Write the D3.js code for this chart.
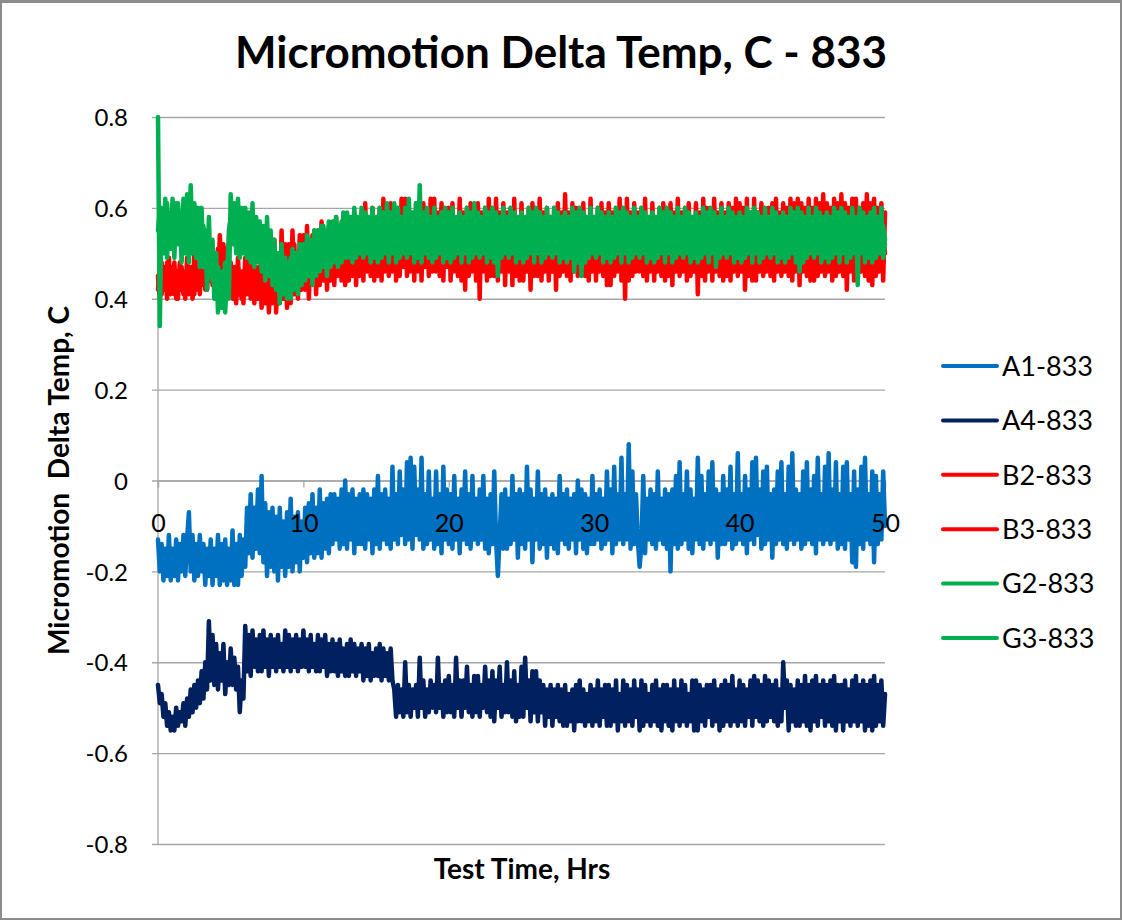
<!DOCTYPE html>
<html>
<head>
<meta charset="utf-8">
<script src="https://cdn.jsdelivr.net/npm/d3@7"></script>
<style>
  html, body { margin: 0; padding: 0; background: #fff; }
  svg { display: block; }
  text { font-family: Lato, "Open Sans", "DejaVu Sans", sans-serif; fill: #000; }
</style>
</head>
<body>
<svg id="chart" width="1122" height="920"></svg>
<script>
// ---------------- DATA ----------------
const title = "Micromotion Delta Temp, C - 833";
const xTitle = "Test Time, Hrs";
const yTitle = "Micromotion  Delta Temp, C";
const xTicks = [0, 10, 20, 30, 40, 50];
const yTicks = [0.8, 0.6, 0.4, 0.2, 0, -0.2, -0.4, -0.6, -0.8];
const seriesNames = ["A1-833", "A4-833", "B2-833", "B3-833", "G2-833", "G3-833"];
const sampleStepHrs = 0.125; // readings every 7.5 minutes, 0..50 h (one row = 1 hour)

const A1 = [
 -0.13,-0.20,-0.14,-0.22,-0.15,-0.21,-0.12,-0.22,
 -0.15,-0.21,-0.13,-0.22,-0.14,-0.20,-0.12,-0.21,
 -0.13,-0.07,-0.20,-0.12,-0.22,-0.14,-0.21,-0.12,
 -0.20,-0.14,-0.23,-0.15,-0.21,-0.13,-0.23,-0.15,
 -0.21,-0.12,-0.23,-0.14,-0.22,-0.13,-0.23,-0.15,
 -0.22,-0.11,-0.23,-0.14,-0.23,-0.12,-0.21,-0.13,
 -0.19,-0.06,-0.16,-0.03,-0.17,-0.06,-0.15,-0.02,
 -0.16,0.01,-0.18,-0.05,-0.21,-0.07,-0.19,-0.06,
 -0.20,-0.08,-0.22,-0.06,-0.19,-0.09,-0.21,-0.07,
 -0.19,-0.04,-0.20,-0.08,-0.18,-0.07,-0.20,-0.09,
 -0.17,-0.06,-0.18,-0.05,-0.16,-0.03,-0.17,-0.06,
 -0.16,-0.02,-0.17,-0.05,-0.15,-0.04,-0.16,-0.03,
 -0.14,-0.03,-0.13,-0.04,-0.15,-0.02,-0.14,0.00,
 -0.15,-0.03,-0.13,-0.02,-0.16,-0.04,-0.14,-0.03,
 -0.14,-0.02,-0.15,-0.03,-0.13,-0.04,-0.16,-0.02,
 -0.14,0.01,-0.15,-0.03,-0.13,-0.02,-0.14,-0.04,
 -0.15,0.03,-0.13,-0.03,-0.14,0.02,-0.12,-0.02,
 -0.14,0.04,-0.13,0.05,-0.15,0.03,-0.12,-0.02,
 -0.13,0.05,-0.15,-0.03,-0.14,0.02,-0.13,-0.04,
 -0.15,0.02,-0.14,-0.03,-0.16,0.03,-0.13,-0.02,
 -0.14,-0.03,-0.15,0.01,-0.13,-0.04,-0.16,-0.02,
 -0.13,0.02,-0.14,-0.03,-0.15,0.01,-0.13,-0.04,
 -0.14,-0.02,-0.13,0.01,-0.15,-0.04,-0.16,-0.03,
 -0.14,0.02,-0.13,-0.21,-0.12,-0.03,-0.15,-0.02,
 -0.15,-0.04,-0.14,0.01,-0.13,-0.03,-0.17,-0.02,
 -0.14,-0.03,-0.15,0.03,-0.13,-0.02,-0.18,-0.04,
 -0.13,0.02,-0.15,-0.03,-0.14,-0.02,-0.17,-0.04,
 -0.14,-0.03,-0.15,-0.04,-0.16,0.01,-0.13,-0.03,
 -0.14,-0.02,-0.15,-0.04,-0.13,-0.03,-0.16,0.00,
 -0.13,-0.02,-0.15,-0.03,-0.16,-0.04,-0.14,0.01,
 -0.14,-0.03,-0.13,-0.02,-0.15,-0.04,-0.14,0.02,
 -0.13,-0.02,-0.16,0.03,-0.14,-0.03,-0.13,0.05,
 -0.14,-0.03,-0.13,0.08,-0.15,0.02,-0.14,-0.03,
 -0.13,-0.19,-0.14,0.01,-0.16,-0.04,-0.13,-0.02,
 -0.14,-0.03,-0.15,0.02,-0.13,-0.04,-0.14,-0.02,
 -0.15,-0.03,-0.20,-0.02,-0.14,0.01,-0.15,0.04,
 -0.14,-0.03,-0.13,0.02,-0.15,-0.02,-0.16,-0.04,
 -0.13,0.05,-0.14,0.01,-0.15,-0.03,-0.13,0.02,
 -0.14,0.04,-0.13,-0.02,-0.17,-0.03,-0.14,0.01,
 -0.14,-0.02,-0.13,0.03,-0.15,-0.03,-0.14,0.06,
 -0.13,-0.03,-0.14,0.01,-0.16,-0.02,-0.13,0.04,
 -0.14,0.05,-0.12,-0.02,-0.15,0.02,-0.14,0.03,
 -0.13,-0.03,-0.17,-0.02,-0.14,0.02,-0.13,0.04,
 -0.14,-0.03,-0.15,0.03,-0.13,0.06,-0.14,-0.02,
 -0.13,-0.03,-0.15,0.02,-0.14,0.04,-0.13,-0.02,
 -0.14,0.01,-0.16,0.05,-0.13,-0.03,-0.14,0.03,
 -0.13,0.06,-0.14,-0.02,-0.13,0.04,-0.15,-0.03,
 -0.14,0.03,-0.15,0.04,-0.13,-0.03,-0.18,0.02,
 -0.19,-0.02,-0.14,0.03,-0.15,0.05,-0.13,-0.03,
 -0.14,0.02,-0.18,0.01,-0.14,-0.03,-0.13,0.02,
 -0.10
];

const A4 = [
 -0.45,-0.49,-0.47,-0.52,-0.49,-0.54,-0.51,-0.55,
 -0.52,-0.55,-0.50,-0.54,-0.51,-0.53,-0.49,-0.54,
 -0.48,-0.52,-0.46,-0.51,-0.45,-0.50,-0.44,-0.49,
 -0.42,-0.48,-0.40,-0.46,-0.31,-0.44,-0.34,-0.45,
 -0.36,-0.46,-0.38,-0.44,-0.36,-0.47,-0.40,-0.45,
 -0.37,-0.45,-0.39,-0.46,-0.41,-0.51,-0.44,-0.48,
 -0.32,-0.42,-0.34,-0.43,-0.33,-0.41,-0.35,-0.42,
 -0.34,-0.42,-0.33,-0.41,-0.35,-0.43,-0.34,-0.41,
 -0.35,-0.42,-0.34,-0.41,-0.36,-0.42,-0.33,-0.41,
 -0.34,-0.42,-0.35,-0.41,-0.34,-0.42,-0.35,-0.41,
 -0.33,-0.41,-0.35,-0.42,-0.34,-0.41,-0.36,-0.42,
 -0.34,-0.42,-0.35,-0.41,-0.34,-0.43,-0.36,-0.42,
 -0.35,-0.42,-0.36,-0.43,-0.35,-0.42,-0.37,-0.43,
 -0.36,-0.43,-0.35,-0.42,-0.36,-0.43,-0.37,-0.42,
 -0.36,-0.44,-0.37,-0.43,-0.36,-0.44,-0.38,-0.43,
 -0.37,-0.43,-0.36,-0.44,-0.37,-0.43,-0.38,-0.44,
 -0.37,-0.44,-0.46,-0.52,-0.45,-0.51,-0.46,-0.52,
 -0.40,-0.51,-0.45,-0.52,-0.46,-0.50,-0.45,-0.52,
 -0.39,-0.50,-0.44,-0.52,-0.46,-0.51,-0.44,-0.50,
 -0.45,-0.51,-0.39,-0.50,-0.45,-0.52,-0.44,-0.51,
 -0.43,-0.51,-0.45,-0.52,-0.39,-0.50,-0.44,-0.52,
 -0.44,-0.50,-0.41,-0.51,-0.45,-0.52,-0.43,-0.51,
 -0.43,-0.52,-0.45,-0.50,-0.41,-0.51,-0.44,-0.52,
 -0.42,-0.53,-0.44,-0.50,-0.41,-0.52,-0.45,-0.51,
 -0.40,-0.51,-0.44,-0.52,-0.42,-0.53,-0.45,-0.52,
 -0.41,-0.52,-0.39,-0.50,-0.44,-0.53,-0.42,-0.51,
 -0.42,-0.53,-0.44,-0.51,-0.45,-0.54,-0.46,-0.52,
 -0.45,-0.54,-0.46,-0.52,-0.45,-0.53,-0.46,-0.54,
 -0.45,-0.54,-0.47,-0.53,-0.46,-0.55,-0.45,-0.53,
 -0.44,-0.53,-0.46,-0.54,-0.47,-0.53,-0.45,-0.54,
 -0.46,-0.53,-0.44,-0.54,-0.46,-0.52,-0.45,-0.54,
 -0.45,-0.54,-0.46,-0.53,-0.44,-0.55,-0.47,-0.53,
 -0.44,-0.54,-0.45,-0.53,-0.46,-0.54,-0.44,-0.52,
 -0.46,-0.55,-0.44,-0.54,-0.45,-0.53,-0.47,-0.54,
 -0.45,-0.53,-0.44,-0.54,-0.46,-0.55,-0.45,-0.53,
 -0.45,-0.54,-0.46,-0.55,-0.44,-0.53,-0.46,-0.54,
 -0.44,-0.53,-0.45,-0.54,-0.47,-0.53,-0.44,-0.55,
 -0.44,-0.55,-0.45,-0.53,-0.46,-0.54,-0.45,-0.52,
 -0.45,-0.54,-0.44,-0.53,-0.46,-0.55,-0.45,-0.54,
 -0.44,-0.53,-0.45,-0.54,-0.43,-0.53,-0.46,-0.54,
 -0.44,-0.53,-0.45,-0.54,-0.46,-0.52,-0.44,-0.54,
 -0.43,-0.52,-0.44,-0.53,-0.45,-0.54,-0.43,-0.53,
 -0.44,-0.52,-0.45,-0.53,-0.44,-0.54,-0.46,-0.53,
 -0.40,-0.50,-0.44,-0.55,-0.45,-0.53,-0.46,-0.54,
 -0.44,-0.54,-0.45,-0.53,-0.43,-0.54,-0.45,-0.55,
 -0.44,-0.53,-0.43,-0.54,-0.45,-0.52,-0.44,-0.54,
 -0.45,-0.53,-0.44,-0.54,-0.43,-0.55,-0.45,-0.53,
 -0.45,-0.55,-0.44,-0.53,-0.46,-0.54,-0.44,-0.53,
 -0.43,-0.54,-0.45,-0.53,-0.44,-0.55,-0.45,-0.54,
 -0.44,-0.55,-0.43,-0.54,-0.45,-0.53,-0.44,-0.54,
 -0.47
];

const B2 = [
 0.45,0.40,0.48,0.42,0.47,0.40,0.49,0.41,
 0.47,0.41,0.46,0.40,0.48,0.42,0.45,0.40,
 0.49,0.41,0.47,0.40,0.50,0.42,0.48,0.41,
 0.52,0.43,0.50,0.42,0.53,0.44,0.49,0.42,
 0.50,0.41,0.54,0.44,0.52,0.42,0.51,0.43,
 0.48,0.40,0.47,0.39,0.49,0.41,0.46,0.39,
 0.49,0.41,0.50,0.40,0.48,0.39,0.47,0.40,
 0.47,0.38,0.46,0.39,0.48,0.37,0.45,0.39,
 0.53,0.37,0.50,0.39,0.55,0.40,0.52,0.38,
 0.52,0.39,0.55,0.41,0.50,0.40,0.54,0.42,
 0.54,0.42,0.56,0.40,0.53,0.43,0.55,0.41,
 0.55,0.43,0.57,0.44,0.54,0.42,0.56,0.44,
 0.56,0.43,0.58,0.45,0.55,0.44,0.57,0.43,
 0.57,0.44,0.56,0.45,0.59,0.43,0.58,0.45,
 0.59,0.44,0.61,0.46,0.58,0.45,0.60,0.44,
 0.58,0.45,0.60,0.44,0.62,0.46,0.59,0.45,
 0.61,0.46,0.59,0.44,0.60,0.45,0.62,0.47,
 0.62,0.45,0.60,0.46,0.58,0.44,0.61,0.46,
 0.60,0.44,0.61,0.47,0.59,0.45,0.62,0.46,
 0.62,0.46,0.59,0.45,0.61,0.44,0.60,0.47,
 0.60,0.44,0.61,0.46,0.58,0.45,0.62,0.44,
 0.59,0.42,0.60,0.45,0.61,0.46,0.58,0.44,
 0.61,0.40,0.59,0.46,0.60,0.44,0.62,0.45,
 0.60,0.45,0.62,0.44,0.59,0.46,0.61,0.43,
 0.59,0.46,0.60,0.43,0.62,0.45,0.58,0.44,
 0.61,0.44,0.58,0.46,0.60,0.42,0.61,0.45,
 0.60,0.45,0.62,0.44,0.59,0.46,0.60,0.44,
 0.58,0.46,0.60,0.42,0.61,0.45,0.59,0.46,
 0.63,0.45,0.59,0.44,0.61,0.46,0.60,0.45,
 0.60,0.46,0.61,0.45,0.58,0.44,0.62,0.46,
 0.58,0.44,0.60,0.46,0.61,0.45,0.59,0.43,
 0.61,0.43,0.59,0.45,0.60,0.46,0.62,0.44,
 0.60,0.40,0.62,0.44,0.59,0.45,0.61,0.46,
 0.59,0.46,0.60,0.45,0.62,0.44,0.58,0.46,
 0.61,0.44,0.58,0.46,0.60,0.45,0.61,0.44,
 0.60,0.45,0.61,0.43,0.59,0.46,0.62,0.45,
 0.59,0.46,0.60,0.44,0.61,0.45,0.58,0.46,
 0.61,0.41,0.59,0.45,0.62,0.44,0.60,0.46,
 0.60,0.44,0.62,0.46,0.59,0.45,0.61,0.44,
 0.59,0.45,0.61,0.44,0.60,0.46,0.62,0.45,
 0.61,0.46,0.60,0.42,0.62,0.45,0.59,0.44,
 0.62,0.44,0.59,0.46,0.61,0.45,0.60,0.46,
 0.60,0.45,0.61,0.44,0.62,0.46,0.59,0.45,
 0.61,0.46,0.60,0.45,0.62,0.44,0.61,0.46,
 0.62,0.43,0.61,0.46,0.60,0.45,0.62,0.44,
 0.60,0.44,0.62,0.45,0.61,0.46,0.63,0.45,
 0.61,0.46,0.60,0.44,0.62,0.45,0.61,0.46,
 0.63,0.45,0.61,0.42,0.60,0.46,0.62,0.44,
 0.62,0.44,0.60,0.46,0.61,0.45,0.63,0.44,
 0.61,0.43,0.62,0.45,0.60,0.46,0.61,0.44,
 0.59
];

const B3 = [
 0.42,0.47,0.41,0.46,0.43,0.48,0.42,0.45,
 0.43,0.48,0.40,0.45,0.42,0.47,0.41,0.46,
 0.42,0.47,0.43,0.46,0.41,0.48,0.43,0.47,
 0.44,0.50,0.42,0.49,0.45,0.51,0.43,0.48,
 0.45,0.51,0.43,0.48,0.44,0.50,0.42,0.47,
 0.42,0.46,0.40,0.47,0.41,0.45,0.40,0.46,
 0.43,0.48,0.41,0.46,0.42,0.47,0.40,0.45,
 0.40,0.45,0.39,0.47,0.41,0.44,0.39,0.46,
 0.41,0.48,0.39,0.50,0.42,0.47,0.40,0.49,
 0.42,0.51,0.43,0.52,0.41,0.50,0.44,0.51,
 0.44,0.53,0.45,0.52,0.43,0.54,0.46,0.52,
 0.46,0.54,0.45,0.55,0.47,0.53,0.46,0.55,
 0.47,0.55,0.46,0.54,0.48,0.56,0.47,0.55,
 0.48,0.56,0.47,0.55,0.49,0.57,0.48,0.56,
 0.47,0.56,0.48,0.57,0.49,0.56,0.47,0.58,
 0.48,0.57,0.47,0.58,0.48,0.56,0.49,0.57,
 0.49,0.58,0.48,0.56,0.47,0.57,0.48,0.56,
 0.47,0.56,0.48,0.57,0.49,0.56,0.47,0.58,
 0.48,0.57,0.47,0.58,0.48,0.56,0.49,0.57,
 0.49,0.58,0.48,0.56,0.47,0.57,0.48,0.56,
 0.47,0.56,0.48,0.57,0.49,0.56,0.47,0.58,
 0.48,0.57,0.47,0.58,0.48,0.56,0.49,0.57,
 0.49,0.58,0.48,0.56,0.47,0.57,0.48,0.56,
 0.47,0.56,0.48,0.57,0.49,0.56,0.47,0.58,
 0.48,0.57,0.47,0.58,0.48,0.56,0.49,0.57,
 0.49,0.58,0.48,0.56,0.47,0.57,0.48,0.56,
 0.47,0.56,0.48,0.57,0.49,0.56,0.47,0.58,
 0.48,0.57,0.47,0.58,0.48,0.56,0.49,0.57,
 0.49,0.58,0.48,0.56,0.47,0.57,0.48,0.56,
 0.47,0.56,0.48,0.57,0.49,0.56,0.47,0.58,
 0.48,0.57,0.47,0.58,0.48,0.56,0.49,0.57,
 0.49,0.58,0.48,0.56,0.47,0.57,0.48,0.56,
 0.47,0.56,0.48,0.57,0.49,0.56,0.47,0.58,
 0.48,0.57,0.47,0.58,0.48,0.56,0.49,0.57,
 0.49,0.58,0.48,0.56,0.47,0.57,0.48,0.56,
 0.47,0.56,0.48,0.57,0.49,0.56,0.47,0.58,
 0.48,0.57,0.47,0.58,0.48,0.56,0.49,0.57,
 0.49,0.58,0.48,0.56,0.47,0.57,0.48,0.56,
 0.47,0.56,0.48,0.57,0.49,0.56,0.47,0.58,
 0.48,0.57,0.47,0.58,0.48,0.56,0.49,0.57,
 0.49,0.58,0.48,0.56,0.47,0.57,0.48,0.56,
 0.47,0.56,0.48,0.57,0.49,0.56,0.47,0.58,
 0.48,0.57,0.47,0.58,0.48,0.56,0.49,0.57,
 0.49,0.58,0.48,0.56,0.47,0.57,0.48,0.56,
 0.47,0.56,0.48,0.57,0.49,0.56,0.47,0.58,
 0.48,0.57,0.47,0.58,0.48,0.56,0.49,0.57,
 0.49,0.58,0.48,0.56,0.47,0.57,0.48,0.56,
 0.47,0.56,0.48,0.57,0.49,0.56,0.47,0.58,
 0.48,0.57,0.47,0.58,0.48,0.56,0.49,0.57,
 0.49,0.58,0.48,0.56,0.47,0.57,0.48,0.56,
 0.50
];

const G2 = [
 0.80,0.34,0.60,0.50,0.62,0.49,0.58,0.51,
 0.62,0.49,0.61,0.52,0.59,0.48,0.62,0.50,
 0.63,0.48,0.65,0.50,0.61,0.49,0.60,0.47,
 0.60,0.47,0.55,0.42,0.58,0.45,0.53,0.40,
 0.50,0.37,0.46,0.38,0.44,0.37,0.48,0.40,
 0.63,0.52,0.61,0.50,0.62,0.49,0.60,0.50,
 0.60,0.49,0.59,0.48,0.61,0.47,0.58,0.48,
 0.57,0.46,0.56,0.44,0.58,0.45,0.55,0.43,
 0.53,0.42,0.50,0.39,0.52,0.41,0.49,0.40,
 0.48,0.40,0.51,0.42,0.50,0.41,0.52,0.43,
 0.52,0.44,0.54,0.45,0.53,0.43,0.55,0.45,
 0.55,0.46,0.56,0.47,0.54,0.45,0.57,0.47,
 0.57,0.48,0.58,0.47,0.56,0.48,0.59,0.49,
 0.59,0.49,0.58,0.48,0.60,0.49,0.58,0.50,
 0.60,0.49,0.59,0.50,0.58,0.48,0.60,0.49,
 0.58,0.48,0.60,0.49,0.59,0.50,0.61,0.48,
 0.59,0.50,0.61,0.48,0.60,0.49,0.58,0.50,
 0.60,0.49,0.62,0.50,0.59,0.48,0.61,0.49,
 0.65,0.48,0.59,0.50,0.60,0.49,0.58,0.48,
 0.60,0.49,0.58,0.50,0.59,0.48,0.60,0.49,
 0.59,0.48,0.60,0.49,0.58,0.50,0.59,0.48,
 0.58,0.50,0.60,0.48,0.59,0.49,0.61,0.50,
 0.59,0.49,0.58,0.50,0.60,0.48,0.59,0.49,
 0.60,0.48,0.59,0.45,0.58,0.49,0.60,0.50,
 0.58,0.49,0.60,0.50,0.59,0.48,0.58,0.49,
 0.59,0.48,0.58,0.49,0.60,0.50,0.59,0.48,
 0.60,0.50,0.59,0.48,0.58,0.49,0.60,0.50,
 0.58,0.49,0.60,0.50,0.59,0.48,0.58,0.49,
 0.59,0.48,0.58,0.49,0.60,0.46,0.59,0.48,
 0.60,0.45,0.59,0.48,0.58,0.49,0.60,0.50,
 0.58,0.49,0.60,0.50,0.59,0.48,0.58,0.49,
 0.59,0.48,0.58,0.49,0.60,0.50,0.59,0.48,
 0.60,0.50,0.59,0.48,0.58,0.49,0.60,0.50,
 0.58,0.49,0.60,0.50,0.59,0.48,0.58,0.49,
 0.59,0.48,0.58,0.49,0.60,0.50,0.59,0.48,
 0.60,0.50,0.59,0.48,0.58,0.49,0.60,0.50,
 0.58,0.49,0.60,0.50,0.59,0.48,0.58,0.49,
 0.59,0.48,0.58,0.49,0.60,0.50,0.59,0.48,
 0.60,0.50,0.59,0.47,0.58,0.49,0.60,0.50,
 0.58,0.49,0.60,0.50,0.59,0.48,0.58,0.49,
 0.59,0.48,0.58,0.49,0.60,0.50,0.59,0.48,
 0.60,0.50,0.59,0.48,0.58,0.49,0.60,0.50,
 0.58,0.49,0.60,0.50,0.59,0.48,0.58,0.49,
 0.59,0.48,0.58,0.49,0.60,0.50,0.59,0.48,
 0.60,0.46,0.59,0.48,0.58,0.49,0.60,0.50,
 0.58,0.49,0.60,0.50,0.59,0.48,0.58,0.49,
 0.59,0.48,0.58,0.49,0.60,0.50,0.59,0.48,
 0.60,0.50,0.59,0.48,0.58,0.49,0.60,0.50,
 0.58,0.43,0.60,0.50,0.59,0.48,0.58,0.49,
 0.59,0.48,0.60,0.49,0.58,0.50,0.60,0.49,
 0.52
];

const G3 = [
 0.55,0.60,0.52,0.58,0.54,0.61,0.53,0.59,
 0.54,0.60,0.53,0.61,0.55,0.59,0.52,0.60,
 0.55,0.62,0.52,0.59,0.54,0.60,0.53,0.58,
 0.50,0.56,0.47,0.54,0.45,0.52,0.44,0.50,
 0.40,0.47,0.41,0.46,0.42,0.48,0.44,0.55,
 0.58,0.54,0.57,0.52,0.58,0.53,0.56,0.52,
 0.56,0.51,0.55,0.50,0.56,0.51,0.54,0.50,
 0.53,0.48,0.52,0.47,0.53,0.48,0.51,0.46,
 0.49,0.44,0.47,0.43,0.48,0.44,0.46,0.43,
 0.45,0.49,0.47,0.50,0.46,0.49,0.48,0.51,
 0.48,0.52,0.50,0.53,0.49,0.52,0.51,0.54,
 0.51,0.55,0.52,0.56,0.51,0.55,0.53,0.56,
 0.52,0.57,0.53,0.56,0.54,0.57,0.52,0.56,
 0.53,0.56,0.52,0.57,0.53,0.58,0.54,0.56,
 0.54,0.57,0.52,0.56,0.53,0.57,0.52,0.58,
 0.52,0.57,0.53,0.56,0.54,0.57,0.52,0.56,
 0.53,0.56,0.52,0.57,0.53,0.58,0.54,0.56,
 0.54,0.57,0.52,0.56,0.53,0.57,0.52,0.58,
 0.52,0.57,0.53,0.56,0.54,0.57,0.52,0.56,
 0.53,0.56,0.52,0.57,0.53,0.58,0.54,0.56,
 0.54,0.57,0.52,0.56,0.53,0.57,0.52,0.58,
 0.52,0.57,0.53,0.56,0.54,0.57,0.52,0.56,
 0.53,0.56,0.52,0.57,0.53,0.58,0.54,0.56,
 0.54,0.57,0.52,0.56,0.53,0.57,0.52,0.58,
 0.52,0.57,0.53,0.56,0.54,0.57,0.52,0.56,
 0.53,0.56,0.52,0.57,0.53,0.58,0.54,0.56,
 0.54,0.57,0.52,0.56,0.53,0.57,0.52,0.58,
 0.52,0.57,0.53,0.56,0.54,0.57,0.52,0.56,
 0.53,0.56,0.52,0.57,0.53,0.58,0.54,0.56,
 0.54,0.57,0.52,0.56,0.53,0.57,0.52,0.58,
 0.52,0.57,0.53,0.56,0.54,0.57,0.52,0.56,
 0.53,0.56,0.52,0.57,0.53,0.58,0.54,0.56,
 0.54,0.57,0.52,0.56,0.53,0.57,0.52,0.58,
 0.52,0.57,0.53,0.56,0.54,0.57,0.52,0.56,
 0.53,0.56,0.52,0.57,0.53,0.58,0.54,0.56,
 0.54,0.57,0.52,0.56,0.53,0.57,0.52,0.58,
 0.52,0.57,0.53,0.56,0.54,0.57,0.52,0.56,
 0.53,0.56,0.52,0.57,0.53,0.58,0.54,0.56,
 0.54,0.57,0.52,0.56,0.53,0.57,0.52,0.58,
 0.52,0.57,0.53,0.56,0.54,0.57,0.52,0.56,
 0.53,0.56,0.52,0.57,0.53,0.58,0.54,0.56,
 0.54,0.57,0.52,0.56,0.53,0.57,0.52,0.58,
 0.52,0.57,0.53,0.56,0.54,0.57,0.52,0.56,
 0.53,0.56,0.52,0.57,0.53,0.58,0.54,0.56,
 0.54,0.57,0.52,0.56,0.53,0.57,0.52,0.58,
 0.52,0.57,0.53,0.56,0.54,0.57,0.52,0.56,
 0.53,0.56,0.52,0.57,0.53,0.58,0.54,0.56,
 0.54,0.57,0.52,0.56,0.53,0.57,0.52,0.58,
 0.52,0.57,0.53,0.56,0.54,0.57,0.52,0.56,
 0.53,0.56,0.52,0.57,0.53,0.58,0.54,0.56,
 0.53
];

const seriesValues = [A1, A4, B2, B3, G2, G3];
const seriesColors = ["#0070C0", "#002060", "#FF0000", "#FF0000", "#00B050", "#00B050"];

// ---------------- CHART ----------------
const W = 1122, H = 920;
const plot = { left: 158, right: 885, top: 117, bottom: 844 };
const fmt = d => d === 0 ? "0" : d3.format(".1f")(d).replace("\u2212", "-");
const gridColor = "#a6a6a6";

const svg = d3.select("#chart");

// outer frame
svg.append("rect").attr("x", 1).attr("y", 1).attr("width", W - 2).attr("height", H - 2)
  .attr("fill", "#fff").attr("stroke", "#8c8c8c").attr("stroke-width", 2);
svg.append("rect").attr("x", 0).attr("y", 0).attr("width", W).attr("height", 3).attr("fill", "#8c8c8c");

const x = d3.scaleLinear().domain([0, 50]).range([plot.left, plot.right]);
const y = d3.scaleLinear().domain([-0.8, 0.8]).range([plot.bottom, plot.top]);

// gridlines + y ticks
const yAxis = d3.axisLeft(y).tickValues(yTicks)
  .tickSize(-(plot.right - plot.left))
  .tickFormat(fmt);
const gy = svg.append("g").attr("transform", `translate(${plot.left},0)`).call(yAxis);
gy.select(".domain").remove();
gy.selectAll(".tick line").attr("stroke", gridColor).attr("stroke-width", 1.3)
  .attr("x1", -6);
gy.selectAll(".tick text").attr("x", -30).attr("dy", "0.36em")
  .style("font-size", "24px").style("font-family", "Lato, 'Open Sans', sans-serif")
  .attr("fill", "#000");

// y axis line
svg.append("line").attr("x1", plot.left).attr("x2", plot.left)
  .attr("y1", plot.top).attr("y2", plot.bottom)
  .attr("stroke", gridColor).attr("stroke-width", 1.3);

// x axis line and tick marks at y = 0 (under the data)
const gxLine = svg.append("g").attr("transform", `translate(0,${y(0)})`)
  .call(d3.axisBottom(x).tickValues(xTicks).tickSize(7).tickFormat(""));
gxLine.select(".domain").attr("stroke", gridColor).attr("stroke-width", 1.3);
gxLine.selectAll(".tick line").attr("stroke", gridColor).attr("stroke-width", 1.3);

// lines
const line = d3.line()
  .x((d, i) => x(i * sampleStepHrs))
  .y(d => y(d));

seriesValues.forEach((vals, k) => {
  svg.append("path")
    .datum(vals)
    .attr("fill", "none")
    .attr("stroke", seriesColors[k])
    .attr("stroke-width", 4.5)
    .attr("stroke-linejoin", "round")
    .attr("stroke-linecap", "round")
    .attr("d", line);
});

// x tick labels (drawn above the data, as in the reference)
const gx = svg.append("g").attr("transform", `translate(0,${y(0)})`)
  .call(d3.axisBottom(x).tickValues(xTicks).tickSize(0).tickFormat(d3.format("d")));
gx.select(".domain").remove();
gx.selectAll(".tick line").remove();
gx.selectAll(".tick text").attr("y", 51).attr("dy", "0")
  .style("font-size", "25px").style("font-family", "Lato, 'Open Sans', sans-serif")
  .attr("fill", "#000");

// title
svg.append("text").attr("x", 561).attr("y", 68).attr("text-anchor", "middle")
  .style("font-size", "44px").style("font-weight", "bold").text(title);

// axis titles
svg.append("text").attr("x", 522).attr("y", 879).attr("text-anchor", "middle")
  .style("font-size", "28px").style("font-weight", "bold").text(xTitle);
svg.append("text").attr("transform", `translate(69,${(plot.top + plot.bottom) / 2}) rotate(-90)`)
  .attr("text-anchor", "middle")
  .style("font-size", "28px").style("font-weight", "bold")
  .style("white-space", "pre").attr("xml:space", "preserve")
  .text(yTitle);

// legend
const legend = svg.append("g");
seriesNames.forEach((name, k) => {
  const ly = 366 + k * 54.4;
  legend.append("line").attr("x1", 943).attr("x2", 997).attr("y1", ly).attr("y2", ly)
    .attr("stroke", seriesColors[k]).attr("stroke-width", 4).attr("stroke-linecap", "round");
  legend.append("text").attr("x", 1002).attr("y", ly).attr("dy", "0.36em")
    .style("font-size", "27px").text(name);
});
</script>
</body>
</html>
